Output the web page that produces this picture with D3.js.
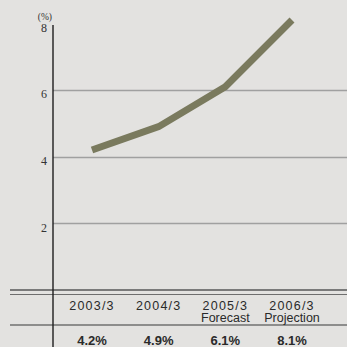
<!DOCTYPE html>
<html>
<head>
<meta charset="utf-8">
<script src="https://cdn.jsdelivr.net/npm/d3@7/dist/d3.min.js"></script>
<style>
  html, body { margin: 0; padding: 0; background: #e3e2e0; }
  svg { display: block; }
</style>
</head>
<body>
<svg id="chart" width="347" height="347"></svg>
<script>
// Ordinary income ratio by fiscal year
const categories = ["2003/3", "2004/3", "2005/3", "2006/3"];
const subLabels = ["", "", "Forecast", "Projection"];
const values = [4.2, 4.9, 6.1, 8.1];
const valueLabels = ["4.2%", "4.9%", "6.1%", "8.1%"];
const yTicks = [2, 4, 6, 8];

const W = 347, H = 347;
const svg = d3.select("#chart");

svg.append("rect").attr("width", W).attr("height", H).attr("fill", "#e3e2e0");

const x = d3.scalePoint().domain(categories).range([92, 292]);
const y = d3.scaleLinear().domain([0, 8]).range([290, 23.3]);
const axisX = 53;

// horizontal gridlines
svg.append("g").selectAll("line")
  .data(yTicks.filter(d => d < 8))
  .join("line")
  .attr("x1", axisX).attr("x2", W)
  .attr("y1", d => Math.round(y(d)) + 0.5).attr("y2", d => Math.round(y(d)) + 0.5)
  .attr("stroke", "#a0a0a0").attr("stroke-width", 1.3);

// y tick labels
svg.append("g").selectAll("text")
  .data(yTicks)
  .join("text")
  .attr("x", 47)
  .attr("y", d => y(d) + 8.5)
  .attr("text-anchor", "end")
  .attr("font-family", "'Liberation Serif', 'DejaVu Serif', serif")
  .attr("font-size", 12)
  .attr("fill", "#333")
  .text(d => d);

svg.append("text")
  .attr("x", 52).attr("y", 20)
  .attr("text-anchor", "end")
  .attr("font-family", "'Liberation Serif', 'DejaVu Serif', serif")
  .attr("font-size", 9.5)
  .attr("fill", "#333")
  .text("(%)");

// table rules below the plot
svg.append("line").attr("x1", 10).attr("x2", W).attr("y1", 290).attr("y2", 290)
  .attr("stroke", "#7a7a7a").attr("stroke-width", 2);
svg.append("line").attr("x1", 10).attr("x2", W).attr("y1", 294.5).attr("y2", 294.5)
  .attr("stroke", "#6e6e6e").attr("stroke-width", 1);
svg.append("line").attr("x1", 10).attr("x2", W).attr("y1", 325).attr("y2", 325)
  .attr("stroke", "#707070").attr("stroke-width", 1.4);

// vertical axis
svg.append("line").attr("x1", axisX).attr("x2", axisX).attr("y1", 25).attr("y2", H)
  .attr("stroke", "#1e1e1e").attr("stroke-width", 1.4);

// data line
const line = d3.line().x((d, i) => x(categories[i])).y(d => y(d));
svg.append("path")
  .datum(values)
  .attr("d", line)
  .attr("fill", "none")
  .attr("stroke", "#7a7a5e")
  .attr("stroke-width", 7)
  .attr("stroke-linecap", "butt")
  .attr("stroke-linejoin", "miter");

// category labels
const cat = svg.append("g").selectAll("g").data(categories).join("g")
  .attr("transform", d => `translate(${x(d)},0)`);
cat.append("text")
  .attr("y", 309.5)
  .attr("text-anchor", "middle")
  .attr("font-family", "'Liberation Sans', Arial, sans-serif")
  .attr("font-size", 12.5)
  .attr("letter-spacing", 1.2)
  .attr("fill", "#2a2a2a")
  .text(d => d);
cat.append("text")
  .attr("y", 321.5)
  .attr("text-anchor", "middle")
  .attr("font-family", "'Liberation Sans', Arial, sans-serif")
  .attr("font-size", 12.5)
  .attr("fill", "#2a2a2a")
  .text((d, i) => subLabels[i]);

// value row
svg.append("g").selectAll("text").data(valueLabels).join("text")
  .attr("x", (d, i) => x(categories[i]))
  .attr("y", 345)
  .attr("text-anchor", "middle")
  .attr("font-family", "'Liberation Sans', Arial, sans-serif")
  .attr("font-weight", "bold")
  .attr("font-size", 13)
  .attr("fill", "#2a2a2a")
  .text(d => d);
</script>
</body>
</html>
